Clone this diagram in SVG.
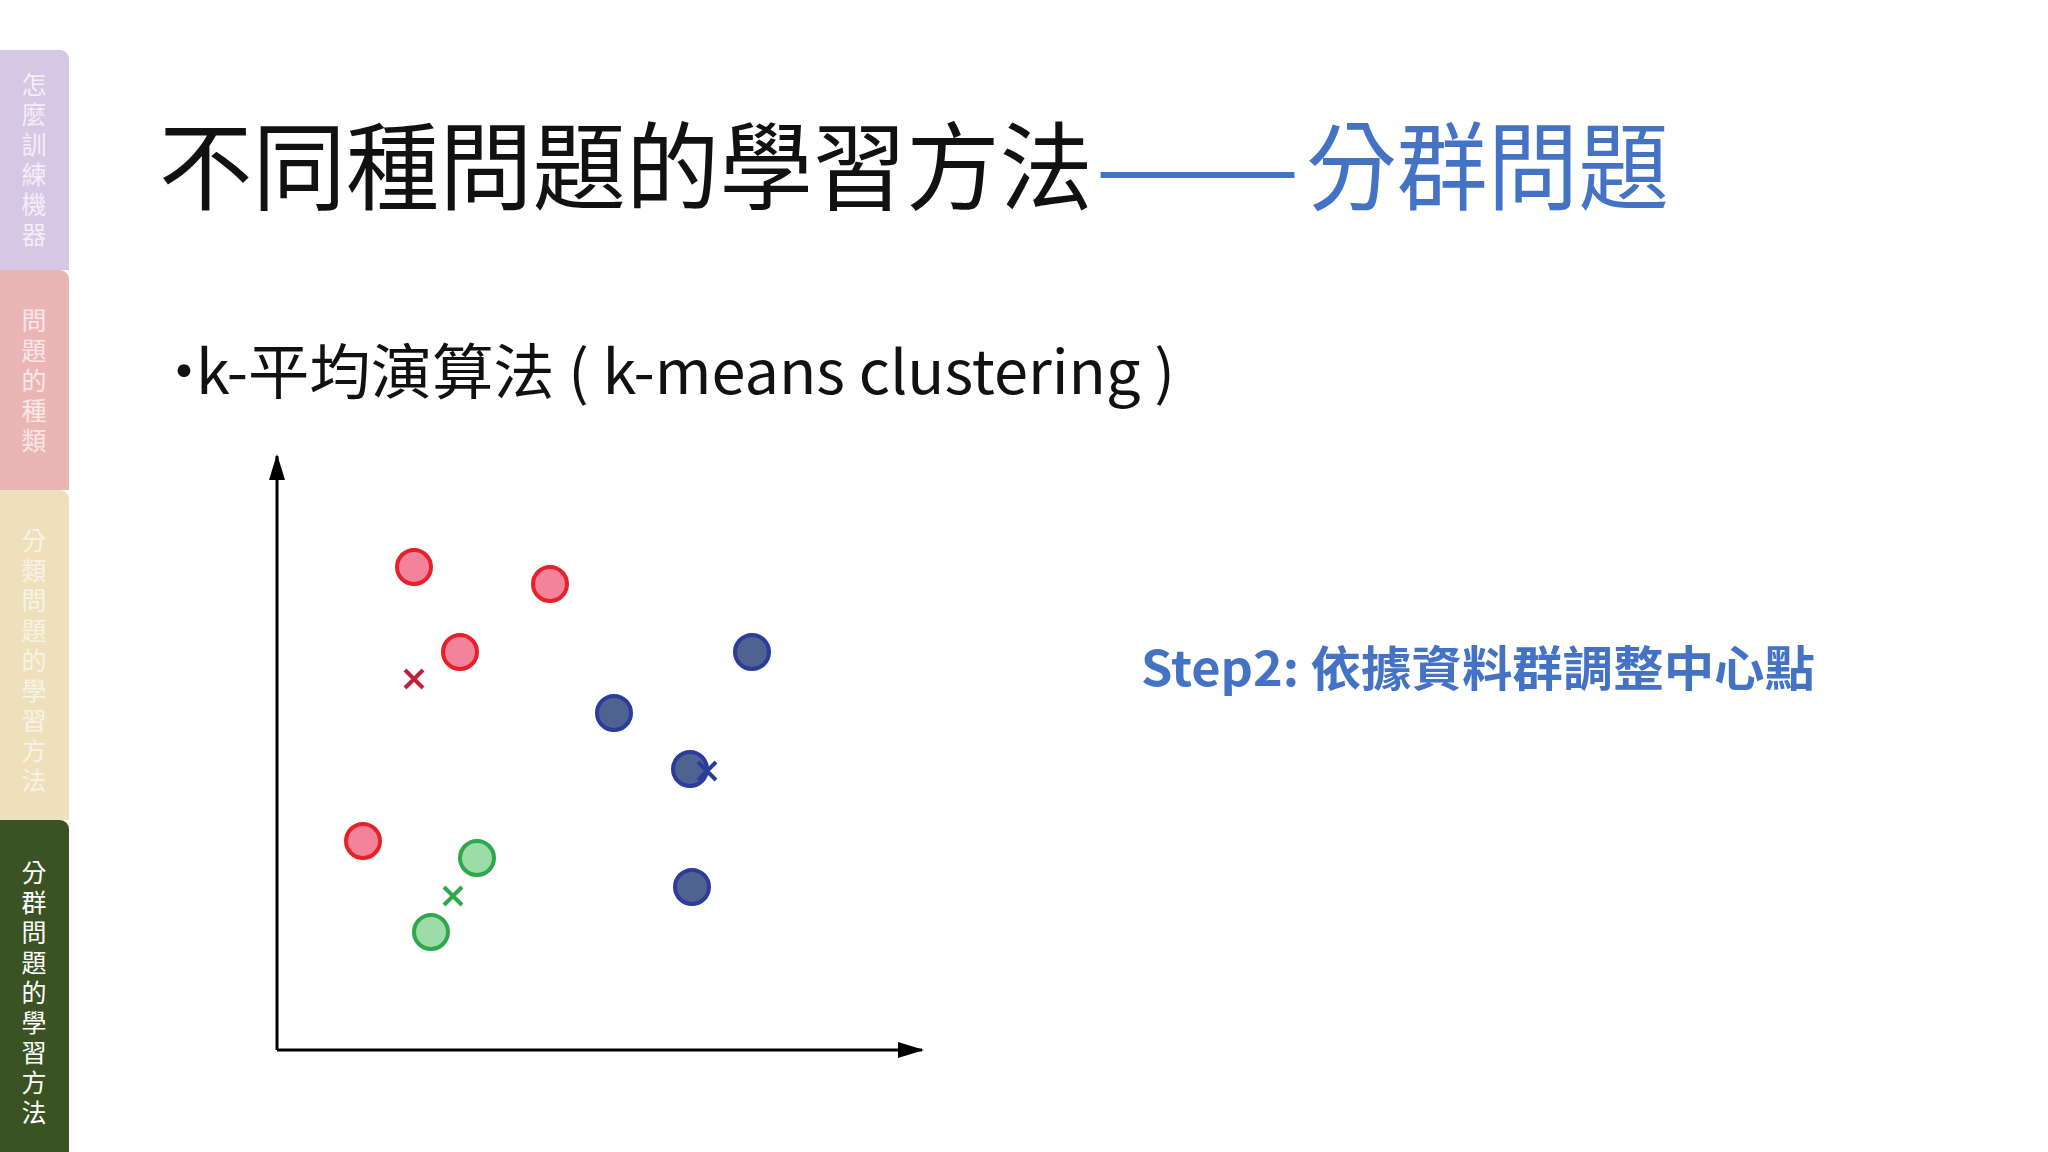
<svg xmlns="http://www.w3.org/2000/svg" width="2048" height="1152" viewBox="0 0 2048 1152">
<defs>
<style>
.cjk{font-family:"Noto Sans CJK TC","Noto Sans",sans-serif}
.side{font-family:"Noto Sans CJK TC",sans-serif;font-size:25px;text-anchor:middle}
.r{fill:#F2839B;stroke:#E8202A;stroke-width:4}
.b{fill:#4F6391;stroke:#2B3C9C;stroke-width:4}
.g{fill:#9BDCA9;stroke:#2FA84B;stroke-width:4}
</style>
<marker id="ah" markerWidth="26" markerHeight="20" refX="24" refY="10" orient="auto" markerUnits="userSpaceOnUse" viewBox="0 0 26 20"><path d="M0,2L26,10L0,18z" fill="#000"/></marker>
</defs>
<rect width="2048" height="1152" fill="#fff"/>
<g id="sidebar">
<path d="M0,50H60a9,9 0 0 1 9,9V270H0z" fill="#D6C7E5"/>
<path d="M0,270H60a9,9 0 0 1 9,9V490H0z" fill="#EBB5B5"/>
<path d="M0,490H60a9,9 0 0 1 9,9V820H0z" fill="#EDE0BA"/>
<path d="M0,820H60a9,9 0 0 1 9,9V1152H0z" fill="#3B5323"/>
<g class="side" fill="#F4EEF8">
<text x="34" y="94">怎</text><text x="34" y="124">麼</text><text x="34" y="154">訓</text><text x="34" y="184">練</text><text x="34" y="214">機</text><text x="34" y="244">器</text>
</g>
<g class="side" fill="#F8E8E8">
<text x="34" y="330">問</text><text x="34" y="360">題</text><text x="34" y="390">的</text><text x="34" y="420">種</text><text x="34" y="450">類</text>
</g>
<g class="side" fill="#F8F3E6">
<text x="34" y="550">分</text><text x="34" y="580">類</text><text x="34" y="610">問</text><text x="34" y="640">題</text><text x="34" y="670">的</text><text x="34" y="700">學</text><text x="34" y="730">習</text><text x="34" y="760">方</text><text x="34" y="790">法</text>
</g>
<g class="side" fill="#FFFFFF">
<text x="34" y="882">分</text><text x="34" y="912">群</text><text x="34" y="942">問</text><text x="34" y="972">題</text><text x="34" y="1002">的</text><text x="34" y="1032">學</text><text x="34" y="1062">習</text><text x="34" y="1092">方</text><text x="34" y="1122">法</text>
</g>
</g>
<g id="title" class="cjk" font-size="96">
<text x="159" y="202" textLength="934" lengthAdjust="spacingAndGlyphs" fill="#111">不同種問題的學習方法</text>
<text x="1095" y="202" textLength="205" lengthAdjust="spacingAndGlyphs" fill="#4472C4">——</text>
<text x="1306" y="202" textLength="363" lengthAdjust="spacingAndGlyphs" fill="#4472C4">分群問題</text>
</g>
<g id="bullet" class="cjk" fill="#111">
<text x="154" y="394" font-size="60">•</text>
<text x="196" y="394" font-size="60" textLength="979" lengthAdjust="spacingAndGlyphs">k-平均演算法 ( k-means clustering )</text>
</g>
<g id="step"><text class="cjk" x="1141" y="686" font-size="48" font-weight="bold" textLength="674" lengthAdjust="spacingAndGlyphs" fill="#4472C4">Step2: 依據資料群調整中心點</text></g>
<g id="connectors" stroke="#000" stroke-width="3" fill="none">
<line x1="277" y1="1050" x2="277" y2="456" marker-end="url(#ah)"/>
<line x1="277" y1="1050" x2="922" y2="1050" marker-end="url(#ah)"/>
</g>
<g id="points">
<circle class="r" cx="414" cy="567" r="17"/><circle class="r" cx="550" cy="584" r="17"/><circle class="r" cx="460" cy="652" r="17"/><circle class="r" cx="363" cy="841" r="17"/>
<circle class="b" cx="752" cy="652" r="17"/><circle class="b" cx="614" cy="713" r="17"/><circle class="b" cx="690" cy="769" r="17"/><circle class="b" cx="692" cy="887" r="17"/>
<circle class="g" cx="477" cy="858" r="17"/><circle class="g" cx="431" cy="932" r="17"/>
<path d="M405,670l18,18M423,670l-18,18" stroke="#C0203A" stroke-width="4"/>
<path d="M698,762l18,18M716,762l-18,18" stroke="#2B3C9C" stroke-width="4"/>
<path d="M444,887l18,18M462,887l-18,18" stroke="#2FA84B" stroke-width="4"/>
</g>
</svg>
